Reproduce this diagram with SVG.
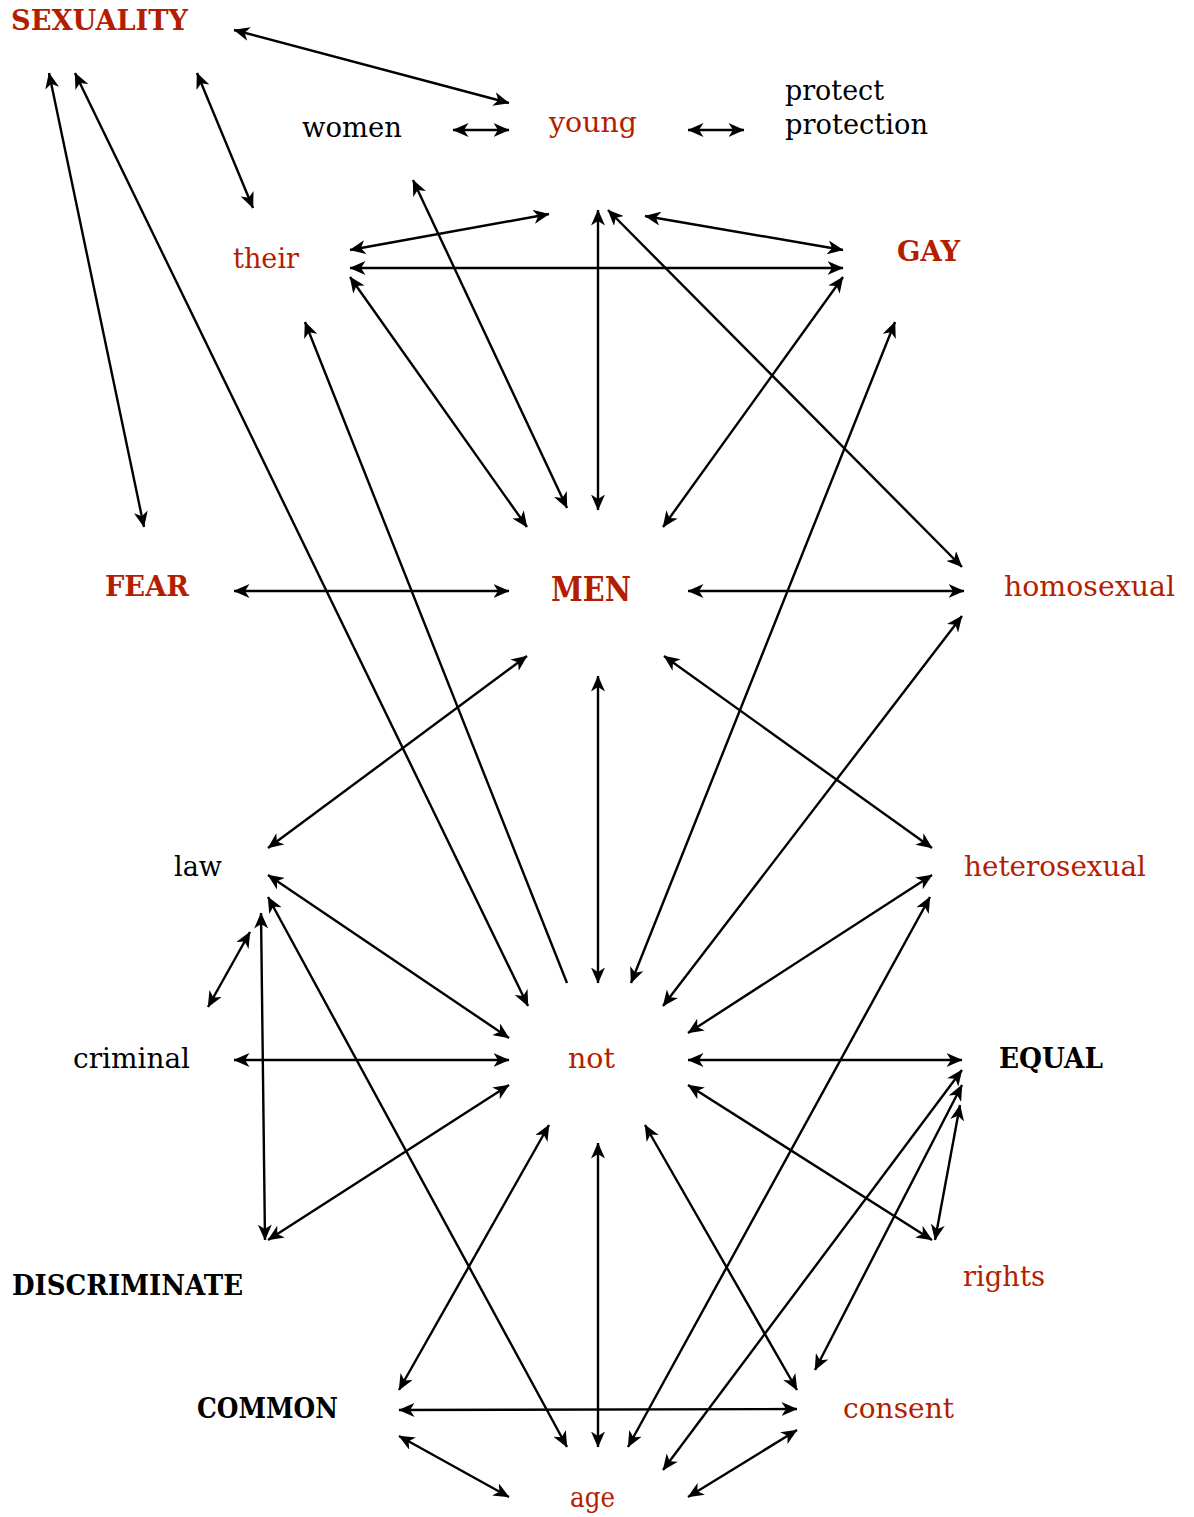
<svg xmlns="http://www.w3.org/2000/svg" width="1194" height="1517" viewBox="0 0 1194 1517">
<style>
text{font-family:"DejaVu Serif","Liberation Serif",serif;font-size:27px;fill:#000}
.r{fill:#b41e00}
.b{font-weight:bold}
.c line{stroke:#000;stroke-width:2.4;fill:none;marker-start:url(#a);marker-end:url(#a)}
.c line.s{marker-start:none}
</style>
<defs>
<marker id="a" viewBox="0 0 16 14" refX="15.5" refY="7" markerWidth="16" markerHeight="14" markerUnits="userSpaceOnUse" orient="auto-start-reverse">
<path d="M0,0 L16,7 L0,14 L4.5,7 z" fill="#000"/>
</marker>
</defs>
<rect width="1194" height="1517" fill="#fff"/>
<g class="c" id="connectors">
<line x1="234" y1="30" x2="509" y2="103"/>
<line x1="49" y1="73" x2="144" y2="527"/>
<line x1="75" y1="73" x2="528" y2="1006"/>
<line x1="197" y1="73" x2="253" y2="208"/>
<line x1="453" y1="130" x2="509" y2="130"/>
<line x1="688" y1="130" x2="744" y2="130"/>
<line x1="413" y1="180" x2="567" y2="508"/>
<line x1="350" y1="250" x2="549" y2="214"/>
<line x1="350" y1="268" x2="843" y2="268"/>
<line x1="350" y1="277" x2="527" y2="527"/>
<line class="s" x1="567" y1="983" x2="305" y2="322"/>
<line x1="598" y1="210" x2="598" y2="510"/>
<line x1="608" y1="210" x2="962" y2="567"/>
<line x1="645" y1="216" x2="843" y2="250"/>
<line x1="843" y1="277" x2="663" y2="527"/>
<line x1="895" y1="322" x2="631" y2="983"/>
<line x1="234" y1="591" x2="509" y2="591"/>
<line x1="688" y1="591" x2="964" y2="591"/>
<line x1="527" y1="656" x2="268" y2="848"/>
<line x1="598" y1="676" x2="598" y2="983"/>
<line x1="664" y1="656" x2="932" y2="848"/>
<line x1="962" y1="616" x2="663" y2="1006"/>
<line x1="268" y1="875" x2="509" y2="1038"/>
<line x1="268" y1="897" x2="567" y2="1447"/>
<line x1="250" y1="932" x2="208" y2="1007"/>
<line x1="261" y1="913" x2="265" y2="1240"/>
<line x1="234" y1="1060" x2="509" y2="1060"/>
<line x1="268" y1="1240" x2="509" y2="1085"/>
<line x1="932" y1="875" x2="688" y2="1033"/>
<line x1="930" y1="897" x2="628" y2="1447"/>
<line x1="688" y1="1060" x2="962" y2="1060"/>
<line x1="688" y1="1085" x2="932" y2="1240"/>
<line x1="960" y1="1105" x2="935" y2="1240"/>
<line x1="962" y1="1070" x2="663" y2="1470"/>
<line x1="962" y1="1085" x2="815" y2="1370"/>
<line x1="549" y1="1125" x2="399" y2="1390"/>
<line x1="598" y1="1143" x2="598" y2="1447"/>
<line x1="645" y1="1125" x2="797" y2="1390"/>
<line x1="399" y1="1410" x2="797" y2="1409"/>
<line x1="399" y1="1436" x2="509" y2="1497"/>
<line x1="797" y1="1430" x2="688" y2="1497"/>
</g>
<g id="n-sexuality"><text class="r b" x="11" y="30" textLength="177" lengthAdjust="spacingAndGlyphs">SEXUALITY</text></g>
<g id="n-women"><text x="302" y="137" textLength="100" lengthAdjust="spacingAndGlyphs">women</text></g>
<g id="n-young"><text class="r" x="549" y="132" textLength="88" lengthAdjust="spacingAndGlyphs">young</text></g>
<g id="n-protect"><text x="785" y="100" textLength="99" lengthAdjust="spacingAndGlyphs">protect</text><text x="785" y="134" textLength="143" lengthAdjust="spacingAndGlyphs">protection</text></g>
<g id="n-their"><text class="r" x="233" y="268" textLength="66" lengthAdjust="spacingAndGlyphs">their</text></g>
<g id="n-gay"><text class="r b" x="897" y="261" textLength="63" lengthAdjust="spacingAndGlyphs">GAY</text></g>
<g id="n-fear"><text class="r b" x="105" y="596" textLength="84" lengthAdjust="spacingAndGlyphs">FEAR</text></g>
<g id="n-men"><text class="r b" x="551" y="601" style="font-size:33px" textLength="80" lengthAdjust="spacingAndGlyphs">MEN</text></g>
<g id="n-homosexual"><text class="r" x="1004" y="596" textLength="171" lengthAdjust="spacingAndGlyphs">homosexual</text></g>
<g id="n-law"><text x="174" y="876" textLength="48" lengthAdjust="spacingAndGlyphs">law</text></g>
<g id="n-heterosexual"><text class="r" x="964" y="876" textLength="182" lengthAdjust="spacingAndGlyphs">heterosexual</text></g>
<g id="n-criminal"><text x="73" y="1068" textLength="117" lengthAdjust="spacingAndGlyphs">criminal</text></g>
<g id="n-not"><text class="r" x="568" y="1068" textLength="47" lengthAdjust="spacingAndGlyphs">not</text></g>
<g id="n-equal"><text class="b" x="999" y="1068" textLength="104" lengthAdjust="spacingAndGlyphs">EQUAL</text></g>
<g id="n-rights"><text class="r" x="963" y="1286" textLength="82" lengthAdjust="spacingAndGlyphs">rights</text></g>
<g id="n-discriminate"><text class="b" x="12" y="1295" textLength="231" lengthAdjust="spacingAndGlyphs">DISCRIMINATE</text></g>
<g id="n-common"><text class="b" x="197" y="1418" textLength="141" lengthAdjust="spacingAndGlyphs">COMMON</text></g>
<g id="n-consent"><text class="r" x="843" y="1418" textLength="111" lengthAdjust="spacingAndGlyphs">consent</text></g>
<g id="n-age"><text class="r" x="570" y="1507" textLength="45" lengthAdjust="spacingAndGlyphs">age</text></g>
</svg>
